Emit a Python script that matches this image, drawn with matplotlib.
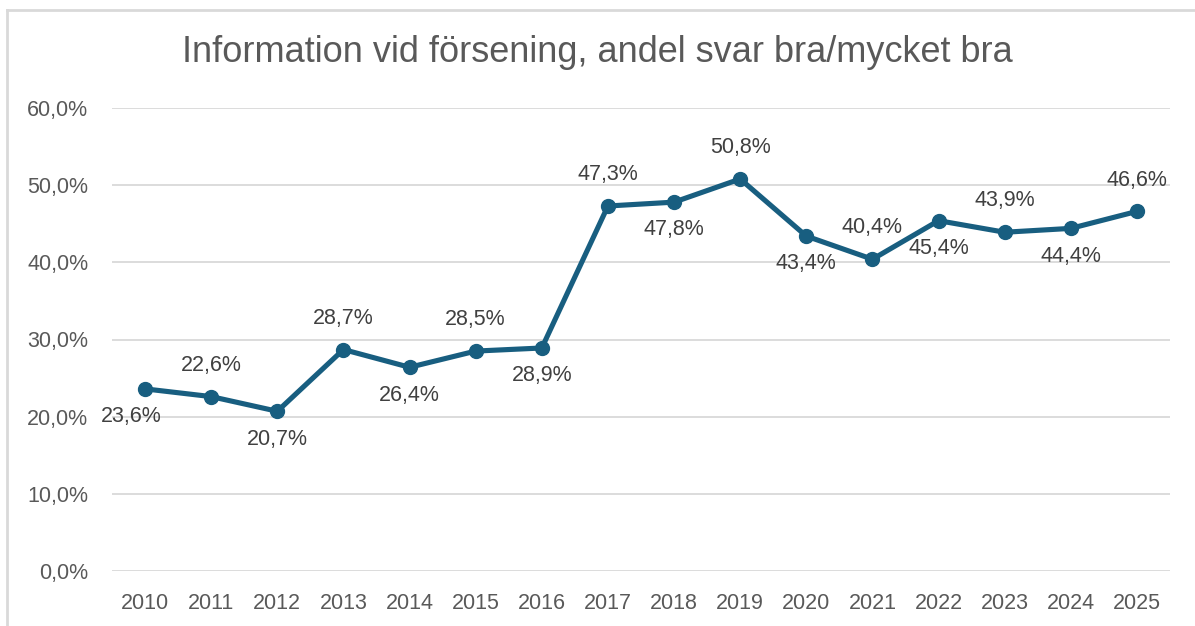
import matplotlib
matplotlib.use("Agg")
import matplotlib.pyplot as plt
from matplotlib.lines import Line2D

years = ["2010", "2011", "2012", "2013", "2014", "2015", "2016", "2017",
         "2018", "2019", "2020", "2021", "2022", "2023", "2024", "2025"]
values = [23.6, 22.6, 20.7, 28.7, 26.4, 28.5, 28.9, 47.3,
          47.8, 50.8, 43.4, 40.4, 45.4, 43.9, 44.4, 46.6]
label_pos = ["below", "above", "below", "above", "below", "above", "below", "above",
             "below", "above", "below", "above", "below", "above", "below", "above"]
yticks = [0, 10, 20, 30, 40, 50, 60]
title = "Information vid försening, andel svar bra/mycket bra"

plt.rcParams['font.family'] = ['Liberation Sans', 'DejaVu Sans']

W, H = 1195, 626
fig = plt.figure(figsize=(W / 100, H / 100), dpi=100)
ax = fig.add_axes([112 / W, (H - 571) / H, (1170 - 112) / W, (571 - 108) / H])

line_color = "#185E80"
x = list(range(len(years)))
ax.plot(x, values, color=line_color, lw=3.7, marker='o', ms=10, zorder=3,
        solid_joinstyle='round')

for i, (v, p) in enumerate(zip(values, label_pos)):
    dy = 22.5 if p == "above" else -20
    dx = -10 if i == 0 else 0
    ax.annotate(f"{v:.1f}%".replace('.', ','), (i, v), xytext=(dx, dy),
                textcoords='offset points', ha='center', va='center',
                fontsize=15.5, color='#404040', zorder=4)

ax.set_xlim(-0.5, len(years) - 0.5)
ax.set_ylim(0, 60)
ax.set_yticks(yticks)
ax.set_yticklabels([f"{t:.1f}%".replace('.', ',') for t in yticks])
ax.set_xticks(x)
ax.set_xticklabels(years)
ax.tick_params(axis='both', length=0, labelsize=15.5, colors='#595959')
ax.tick_params(axis='y', pad=17)
ax.tick_params(axis='x', pad=16)
ax.grid(axis='y', color='#D9D9D9', lw=1.3)
ax.set_axisbelow(True)
for s in ax.spines.values():
    s.set_visible(False)

fig.text(0.5, (H - 53) / H, title, ha='center', va='center', fontsize=26,
         color='#595959')

# chart border (top and left visible)
fig.add_artist(Line2D([7 / W, 1.0], [1 - 10 / H, 1 - 10 / H], color='#D9D9D9', lw=2,
                      transform=fig.transFigure))
fig.add_artist(Line2D([7 / W, 7 / W], [0, 1 - 10 / H], color='#D9D9D9', lw=2,
                      transform=fig.transFigure))

fig.savefig("out.png", dpi=100)
